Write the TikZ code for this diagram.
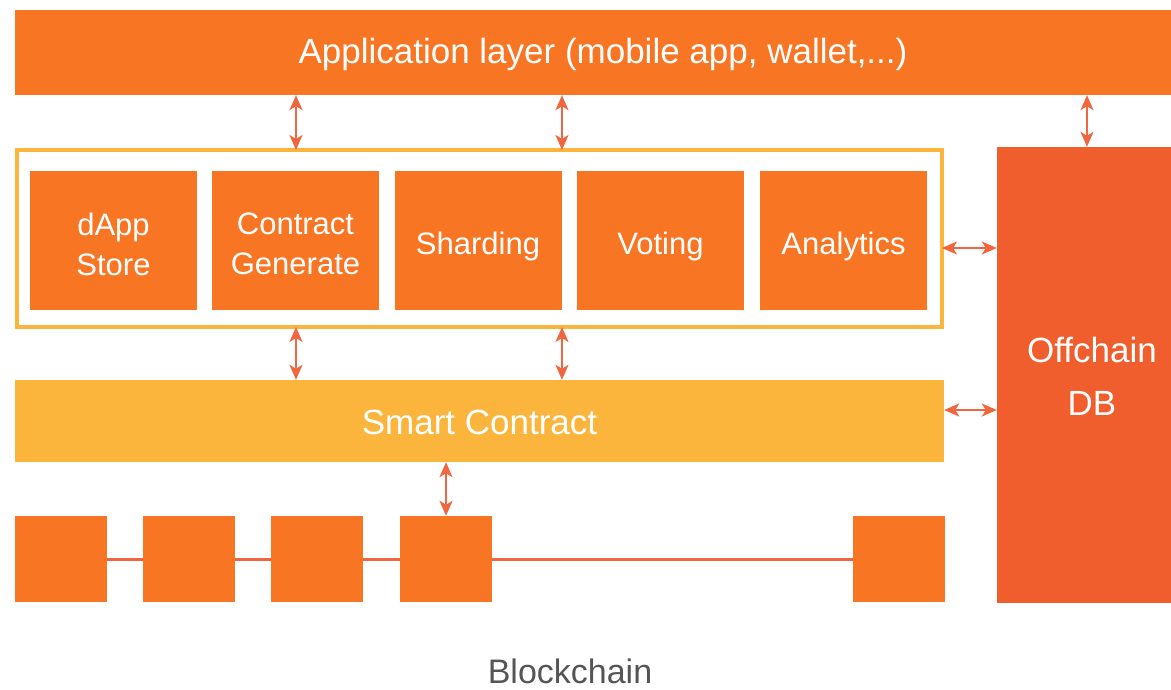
\documentclass[tikz,border=0pt]{standalone}
\usepackage{fontspec}
\setmainfont{Liberation Sans}
\usetikzlibrary{arrows.meta}
\definecolor{blockorange}{HTML}{F77523}
\definecolor{frameyellow}{HTML}{FBB53D}
\definecolor{dbred}{HTML}{F05E2E}
\definecolor{linkred}{HTML}{F0673F}
\definecolor{captiongray}{HTML}{555555}
\tikzset{
  layer/.style={fill=blockorange, draw=none, inner sep=0pt, text=white,
    font=\fontsize{35}{40}\selectfont, align=center},
  module/.style={fill=blockorange, draw=none, inner sep=0pt, text=white,
    minimum width=167pt, minimum height=139pt,
    font=\fontsize{31}{40}\selectfont, align=center},
  modlabel/.style={text=white, inner sep=0pt, font=\fontsize{31}{40}\selectfont, align=center},
  chainblock/.style={fill=blockorange, draw=none, inner sep=0pt,
    minimum width=92pt, minimum height=86pt},
  biarrow/.style={linkred, line width=2.2pt,
    {Stealth[length=15pt,width=13pt,inset=4pt]}-{Stealth[length=15pt,width=13pt,inset=4pt]}},
  chainlink/.style={linkred, line width=3pt}
}
\begin{document}
\begin{tikzpicture}[x=1pt,y=-1pt]
\useasboundingbox (0,0) rectangle (1171,689);

% application layer bar
\node[layer, minimum width=1156pt, minimum height=85pt] (app) at (593,52.5) {};
\node[text=white, inner sep=0pt, font=\fontsize{35}{40}\selectfont] (applabel) at (603,54)
  {Application layer (mobile app, wallet,...)};

% frame around the platform modules
\node[draw=frameyellow, line width=4pt, fill=none, inner sep=0pt, outer sep=0pt,
  minimum width=925pt, minimum height=177pt] (frame) at (479.5,238.5) {};

\node[module] (dapp) at (113.5,240.5) {};
\node[module] (gen) at (295.5,240.5) {};
\node[module] (shard) at (478,240.5) {};
\node[module] (vote) at (660.5,240.5) {};
\node[module] (ana) at (843.5,240.5) {};
\node[modlabel] (dappl) at (113.5,244) {dApp\\Store};
\node[modlabel] (genl) at (295.5,244) {Contract\\Generate};
\node[modlabel] (shardl) at (478,246) {Sharding};
\node[modlabel] (votel) at (660.5,246) {Voting};
\node[modlabel] (anal) at (843.5,246) {Analytics};

% off-chain storage
\node[fill=dbred, inner sep=0pt, minimum width=174pt, minimum height=456pt] (db) at (1084,375) {};
\node[text=white, font=\fontsize{35}{53}\selectfont, align=center, inner sep=0pt]
  (dblabel) at (1092,376) {Offchain\\DB};

% smart contract layer
\node[fill=frameyellow, inner sep=0pt, minimum width=929pt, minimum height=82pt] (sc) at (479.5,421) {};
\node[text=white, inner sep=0pt, font=\fontsize{35}{40}\selectfont] (sclabel) at (479.5,422) {Smart Contract};

% blockchain
\node[chainblock] (b1) at (61,559) {};
\node[chainblock] (b2) at (189,559) {};
\node[chainblock] (b3) at (317,559) {};
\node[chainblock] (b4) at (446,559) {};
\node[chainblock] (b5) at (899,559) {};
\draw[chainlink] (b1.east) -- (b2.west);
\draw[chainlink] (b2.east) -- (b3.west);
\draw[chainlink] (b3.east) -- (b4.west);
\draw[chainlink] (b4.east) -- (b5.west);
\node[text=captiongray, inner sep=0pt, font=\fontsize{34}{40}\selectfont] (chain) at (570,671) {Blockchain};

% connections between layers
\draw[biarrow] (app.south -| 296,0) -- (frame.north -| 296,0);
\draw[biarrow] (app.south -| 562,0) -- (frame.north -| 562,0);
\draw[biarrow] (app.south -| 1087,0) -- (db.north -| 1087,0);
\draw[biarrow] (frame.south -| 296,0) -- (sc.north -| 296,0);
\draw[biarrow] (frame.south -| 562,0) -- (sc.north -| 562,0);
\draw[biarrow] (frame.east |- 0,248) -- (db.west |- 0,248);
\draw[biarrow] (sc.east |- 0,410) -- (db.west |- 0,410);
\draw[biarrow] (sc.south -| b4.north) -- (b4.north);
\end{tikzpicture}
\end{document}
